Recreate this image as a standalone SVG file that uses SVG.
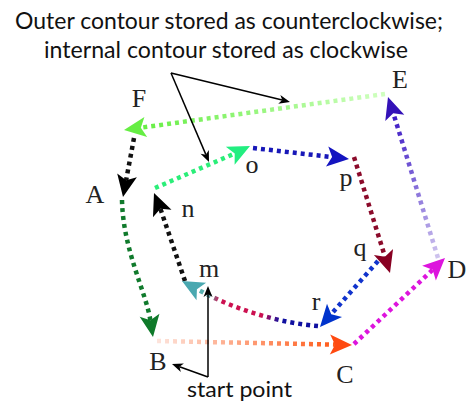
<svg xmlns="http://www.w3.org/2000/svg" xmlns:xlink="http://www.w3.org/1999/xlink" width="468" height="403" viewBox="0 0 468 403">
<style>
.dot{fill:none;stroke-width:4.5;stroke-dasharray:4 4}
.ann{fill:none;stroke:#000;stroke-width:1.5}
.lbl{font-family:"Liberation Serif","Times New Roman",serif;font-size:26px;fill:#222;text-anchor:middle}
.ttl{font-family:Lato,"Liberation Sans",Arial,sans-serif;font-size:24px;fill:#111}
.sp{font-family:Lato,"Liberation Sans",Arial,sans-serif;font-size:22px;fill:#111}
</style>
<defs>
<path id="ah" d="M0,0 L-22,-10 L-17,0 L-22,10 Z"/>
<path id="sh" d="M0,0 L-11,-4.5 L-8,0 L-11,4.5 Z"/>
<linearGradient id="gEF" gradientUnits="userSpaceOnUse" x1="385" y1="94" x2="141" y2="128"><stop offset="0" stop-color="#d0ffc0"/><stop offset="1" stop-color="#66ee44"/></linearGradient>
<linearGradient id="gBC" gradientUnits="userSpaceOnUse" x1="157" y1="341" x2="335" y2="345"><stop offset="0" stop-color="#fde4dc"/><stop offset="1" stop-color="#ff5a18"/></linearGradient>
<linearGradient id="gDE" gradientUnits="userSpaceOnUse" x1="438" y1="258" x2="393" y2="113"><stop offset="0" stop-color="#cfc4ee"/><stop offset="1" stop-color="#3a16c4"/></linearGradient>
<linearGradient id="gRM" gradientUnits="userSpaceOnUse" x1="318" y1="326" x2="197" y2="289"><stop offset="0" stop-color="#1010a0"/><stop offset="0.3" stop-color="#1010a0"/><stop offset="0.45" stop-color="#cc1050"/><stop offset="0.8" stop-color="#cc1050"/><stop offset="0.9" stop-color="#5ab0b0"/><stop offset="1" stop-color="#5ab0b0"/></linearGradient>
</defs>
<rect width="468" height="403" fill="#fff"/>
<g id="title">
<text class="ttl" x="15" y="29" textLength="428" lengthAdjust="spacingAndGlyphs">Outer contour stored as counterclockwise;</text>
<text class="ttl" x="44" y="58" textLength="364" lengthAdjust="spacingAndGlyphs">internal contour stored as clockwise</text>
</g>
<g id="connectors">
<path class="dot" stroke="url(#gEF)" d="M385,94 L140.8,127.7"/>
<use href="#ah" transform="translate(124,130) rotate(172.1)" fill="#66ee44"/>
<path class="dot" stroke="#111" d="M134,138 L126.1,180.3"/>
<use href="#ah" transform="translate(123,197) rotate(100.6)" fill="#000"/>
<path class="dot" stroke="#107a2c" d="M122,200 C123,250 146,292 150.3,320"/>
<use href="#ah" transform="translate(153,337) rotate(81)" fill="#0f7a2a"/>
<path class="dot" stroke="url(#gBC)" d="M157,341 L335,344.6"/>
<use href="#ah" transform="translate(352,345) rotate(1.2)" fill="#ff4a10"/>
<path class="dot" stroke="#dd14dd" d="M354,344 L432.6,269.7"/>
<use href="#ah" transform="translate(445,258) rotate(-43.4)" fill="#dd14dd"/>
<path class="dot" stroke="url(#gDE)" d="M438,258 L393.3,113.2"/>
<use href="#ah" transform="translate(388,97) rotate(-108)" fill="#3412b8"/>
<path class="dot" stroke="#111" d="M185,281 L160.4,208.8"/>
<use href="#ah" transform="translate(154,193) rotate(-112)" fill="#000"/>
<path class="dot" stroke="#2aee78" d="M155,188 L234.7,153.5"/>
<use href="#ah" transform="translate(250,146) rotate(-26)" fill="#22ee80"/>
<path class="dot" stroke="#1818b8" d="M253,148 L332.1,157.1"/>
<use href="#ah" transform="translate(349,159) rotate(6.5)" fill="#1414c0"/>
<path class="dot" stroke="#8b0a2a" d="M354,157 L385,256.8"/>
<use href="#ah" transform="translate(390,273) rotate(72.8)" fill="#880022"/>
<path class="dot" stroke="#1133cc" d="M378,261 L331.2,314.2"/>
<use href="#ah" transform="translate(320,327) rotate(131.3)" fill="#0033cc"/>
<path class="dot" stroke="url(#gRM)" d="M318,326 C280,323 235,310 196.9,289.1"/>
<use href="#ah" transform="translate(182,281) rotate(-151.4)" fill="#4aa8b0"/>
<path class="ann" d="M171,73 L205.9,154.6"/>
<use href="#sh" transform="translate(209,162) rotate(66.9)" fill="#000"/>
<path class="ann" d="M171,73 L282.2,100.1"/>
<use href="#sh" transform="translate(290,102) rotate(13.7)" fill="#000"/>
<path class="ann" d="M208,377 L208,294"/>
<use href="#sh" transform="translate(208,286) rotate(-90)" fill="#000"/>
<path class="ann" d="M208,377 L179.5,366.7"/>
<use href="#sh" transform="translate(172,364) rotate(-160.1)" fill="#000"/>
</g>
<g id="node-F"><text class="lbl" x="139" y="107">F</text></g>
<g id="node-A"><text class="lbl" x="95" y="203">A</text></g>
<g id="node-B"><text class="lbl" x="158" y="370">B</text></g>
<g id="node-C"><text class="lbl" x="345" y="383">C</text></g>
<g id="node-D"><text class="lbl" x="457" y="278">D</text></g>
<g id="node-E"><text class="lbl" x="400" y="88">E</text></g>
<g id="node-m"><text class="lbl" x="209" y="277">m</text></g>
<g id="node-n"><text class="lbl" x="188" y="217">n</text></g>
<g id="node-o"><text class="lbl" x="252" y="173">o</text></g>
<g id="node-p"><text class="lbl" x="346" y="186">p</text></g>
<g id="node-q"><text class="lbl" x="360" y="256">q</text></g>
<g id="node-r"><text class="lbl" x="316" y="310">r</text></g>
<g id="start-label"><text class="sp" x="187" y="397" textLength="105" lengthAdjust="spacingAndGlyphs">start point</text></g>
</svg>
